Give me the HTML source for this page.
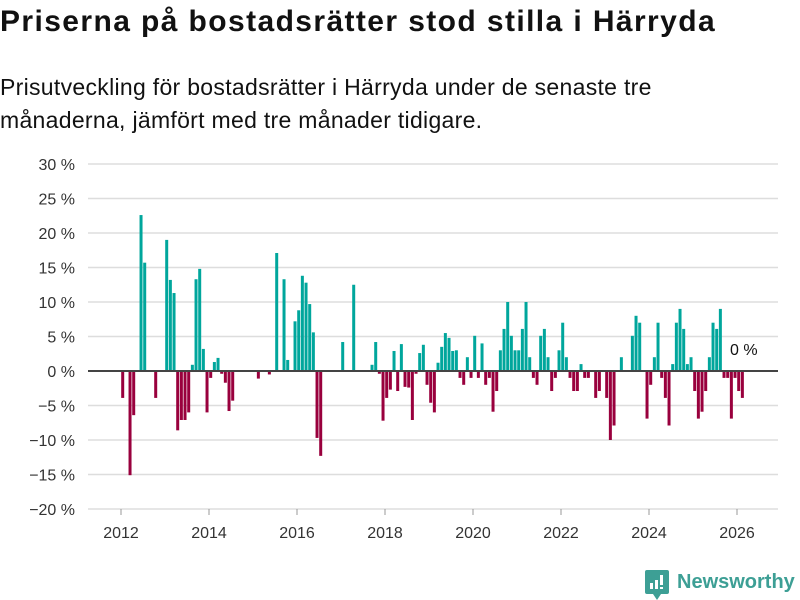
<!DOCTYPE html>
<html><head><meta charset="utf-8">
<style>
body{margin:0;width:800px;height:600px;background:#fff;font-family:"Liberation Sans",sans-serif;overflow:hidden;position:relative;color:#111}
#title{position:absolute;left:0;top:5px;font-size:30px;font-weight:bold;margin:0;letter-spacing:1.4px;white-space:nowrap}
#sub{position:absolute;left:0;top:71px;font-size:23px;line-height:33px;width:690px;letter-spacing:0.3px}
svg{position:absolute;left:0;top:0}
</style></head><body>
<h1 id="title">Priserna på bostadsrätter stod stilla i Härryda</h1>
<div id="sub">Prisutveckling för bostadsrätter i Härryda under de senaste tre månaderna, jämfört med tre månader tidigare.</div>
<svg id="chart" width="800" height="600"></svg>
<script>
const yTicks=[30,25,20,15,10,5,0,-5,-10,-15,-20];
const yTickLabels=["30 %","25 %","20 %","15 %","10 %","5 %","0 %","−5 %","−10 %","−15 %","−20 %"];
const xTicks=[2012,2014,2016,2018,2020,2022,2024,2026];
const startYear=2012;
const values=[-3.9,null,-15.1,-6.4,null,22.6,15.7,null,null,-3.9,null,null,
19.0,13.2,11.3,-8.6,-7.1,-7.1,-6.0,0.9,13.3,14.8,3.2,-6.0,
-1.0,1.3,1.9,-0.4,-1.7,-5.8,-4.3,null,null,null,null,null,
null,-1.1,null,null,-0.5,null,17.1,null,13.3,1.6,null,7.2,
8.8,13.8,12.8,9.7,5.6,-9.7,-12.3,null,null,null,null,null,
4.2,null,null,12.5,null,null,null,null,0.9,4.2,-0.4,-7.2,
-3.9,-2.7,2.9,-2.9,3.9,-2.3,-2.4,-7.1,-0.4,2.6,3.8,-2.0,
-4.6,-6.0,1.2,3.5,5.5,4.8,2.9,3.0,-1.0,-2.0,2.0,-1.0,
5.1,-1.0,4.0,-2.0,-1.0,-5.9,-2.9,3.0,6.1,10.0,5.1,3.0,
3.0,6.1,10.0,2.0,-1.0,-2.0,5.1,6.1,2.0,-2.9,-1.0,3.0,
7.0,2.0,-1.0,-2.9,-2.9,1.0,-1.0,-1.0,null,-3.9,-2.9,null,
-3.9,-10.0,-7.9,null,2.0,null,null,5.1,8.0,7.0,null,-6.9,
-2.0,2.0,7.0,-1.0,-3.9,-7.9,1.0,7.0,9.0,6.1,1.0,2.0,
-2.9,-6.9,-5.9,-2.9,2.0,7.0,6.1,9.0,-1.0,-1.0,-6.9,-1.0,
-2.9,-3.9];
const lastLabel="0 %";

const NS="http://www.w3.org/2000/svg";
const svg=document.getElementById('chart');
const x0=121,pxYear=44,yZero=371,pxPct=6.9;
const xScale=m=>x0+m*pxYear/12;
const yScale=v=>yZero-v*pxPct;
function mk(t,a){const e=document.createElementNS(NS,t);for(const k in a)e.setAttribute(k,a[k]);svg.appendChild(e);return e;}
yTicks.forEach((v,i)=>{
  if(v!==0){const g=mk('line',{x1:88,x2:778,y1:yScale(v),y2:yScale(v),stroke:'#dddddd','stroke-width':1.5});
  
  }
  const t=mk('text',{x:75,y:yScale(v)+6,'text-anchor':'end','font-size':16,fill:'#333','font-family':'Liberation Sans, sans-serif'});
  t.textContent=yTickLabels[i];
  
  
});
xTicks.forEach(y=>{
  const xx=xScale((y-startYear)*12);
  const tk=mk('line',{x1:xx,x2:xx,y1:509,y2:515,stroke:'#999','stroke-width':1});
  
  
  const t=mk('text',{x:xx,y:538,'text-anchor':'middle','font-size':16,fill:'#333','font-family':'Liberation Sans, sans-serif'});
  t.textContent=y;
  
  
});
values.forEach((v,m)=>{
  if(v===null)return;
  const y=yScale(v);
  const r=mk('rect',{x:xScale(m)+0.2,y:Math.min(y,yZero),width:3,height:Math.abs(yZero-y),fill:v>=0?'#00a69c':'#99003d'});
  
  
});
const zl=mk('line',{x1:88,x2:778,y1:yZero,y2:yZero,stroke:'#444','stroke-width':2});


const ll=mk('text',{x:730,y:355,'font-size':16,fill:'#111','font-family':'Liberation Sans, sans-serif'});
ll.textContent=lastLabel;


</script>
<div style="position:absolute;left:645px;top:570px;display:flex;align-items:center">
<svg width="24" height="30" viewBox="0 0 24 30" style="position:static"><path d="M2 0h20a2 2 0 0 1 2 2v20a2 2 0 0 1-2 2h-6l-4 6-4-6H2a2 2 0 0 1-2-2V2a2 2 0 0 1 2-2z" fill="#3d9f95"/><rect x="5" y="13" width="3" height="6" fill="#fff"/><rect x="10" y="10" width="3" height="9" fill="#fff"/><rect x="15" y="5" width="3" height="10" fill="#fff"/><rect x="15" y="17" width="3" height="2" fill="#fff"/></svg>
<span style="color:#3d9f95;font-weight:bold;font-size:20px;margin-left:8px;margin-top:-6px">Newsworthy</span>
</div>
</body></html>
